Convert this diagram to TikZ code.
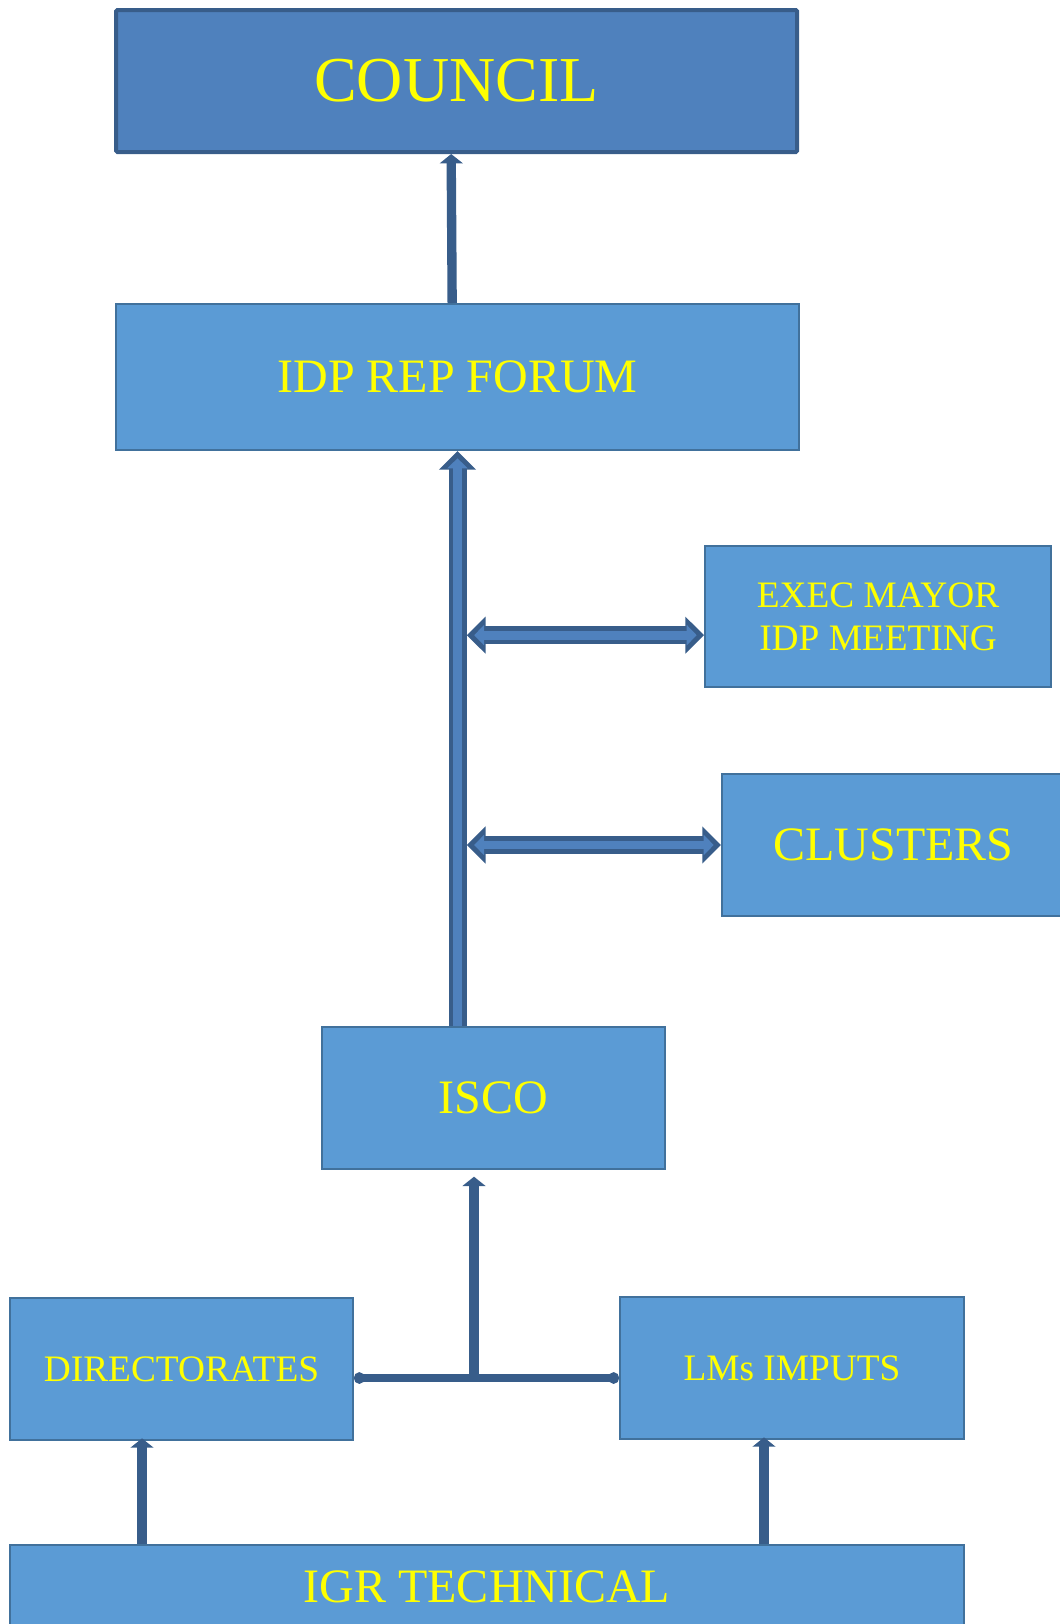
\documentclass[tikz,border=0pt]{standalone}
\usepackage{fontspec}
\setmainfont{Liberation Serif}
\usepackage{tikz}
\usetikzlibrary{arrows.meta,positioning}
\usepackage{color}
\definecolor{councilblue}{HTML}{4F81BD}
\definecolor{boxblue}{HTML}{5B9BD5}
\definecolor{boxline}{HTML}{41719C}
\definecolor{arrowblue}{HTML}{385D8A}
\definecolor{txtyellow}{HTML}{FFFF00}
\tikzset{
  outerhead/.tip={Triangle[width=27pt,length=14pt]},
  innerhead/.tip={Triangle[width=15pt,length=7.5pt]},
  smallhead/.tip={Triangle[width=17pt,length=7pt]},
  dothead/.tip={Circle[length=8pt,width=8.5pt]}
}
\begin{document}
\begin{tikzpicture}[x=0.75pt,y=-0.75pt]
                    \tikzstyle{every node}+=[inner sep=0pt]
                    \tikzstyle{box}=[draw=boxline, line width=1.5pt, fill=boxblue, text=txtyellow, align=center, font=\fontsize{36}{40}\selectfont]
                    \tikzstyle{smallbox}=[box, font=\fontsize{28}{32}\selectfont]
                    \tikzstyle{uparrow}=[draw=arrowblue, line width=7pt, -smallhead]
                    \tikzstyle{joinline}=[draw=arrowblue, line width=6pt, dothead-dothead]
                    \tikzstyle{blockarrow}=[draw=arrowblue, line width=13.5pt, -outerhead, postaction={draw=councilblue, line width=6.5pt, shorten >=5.5pt, -innerhead}]
                    \tikzstyle{blockboth}=[draw=arrowblue, line width=13.5pt, outerhead-outerhead, postaction={draw=councilblue, line width=6.5pt, shorten <=5.5pt, shorten >=5.5pt, innerhead-innerhead}]
                    \useasboundingbox (0,0) rectangle (1060,1624);
                    % boxes
                    \node [box, fill=councilblue, draw=arrowblue, line width=3pt, rounded corners=1pt, minimum width=510.75pt, minimum height=106.5pt, font=\fontsize{48}{52}\selectfont] (council) at (456.5,81) {COUNCIL};
                    \node [box, minimum width=512.25pt, minimum height=109.5pt] (forum) at (457.5,377) {IDP REP FORUM};
                    \node [smallbox, minimum width=259.5pt, minimum height=105.75pt] (mayor) at (878,616.5) {EXEC MAYOR\\IDP MEETING};
                    \node [box, minimum width=257.25pt, minimum height=106.5pt] (clusters) at (893.5,845) {CLUSTERS};
                    \node [box, minimum width=257.25pt, minimum height=106.5pt] (isco) at (493.5,1098) {ISCO};
                    \node [smallbox, minimum width=257.25pt, minimum height=106.5pt] (direct) at (181.5,1369) {DIRECTORATES};
                    \node [smallbox, minimum width=258pt, minimum height=106.5pt] (lms) at (792,1368) {LMs IMPUTS};
                    \node [box, minimum width=715.5pt, minimum height=63pt] (igr) at (487,1587) {IGR TECHNICAL};
                    % connectors
                    \draw [uparrow] ([xshift=-4pt]forum.north) -- ([xshift=-4pt]council.south);
                    \draw [blockarrow] (isco.north -| forum.south) -- (forum.south);
                    \draw [blockboth] ([xshift=7pt,yshift=-14pt]mayor.west -| forum.south) -- ([yshift=-14pt]mayor.west);
                    \draw [blockboth] ([xshift=7pt]clusters.west -| forum.south) -- (clusters.west);
                    \coordinate (hub) at (474,1378);
                    \draw [joinline] (hub -| direct.east) -- (hub -| lms.west);
                    \draw [uparrow, shorten >=5pt] (hub) -- (hub |- isco.south);
                    \draw [uparrow] ([xshift=-29.6pt]direct.south |- igr.north) -- ([xshift=-29.6pt,yshift=2pt]direct.south);
                    \draw [uparrow] ([xshift=-21pt]lms.south |- igr.north) -- ([xshift=-21pt,yshift=2pt]lms.south);
                \end{tikzpicture}
\end{document}
